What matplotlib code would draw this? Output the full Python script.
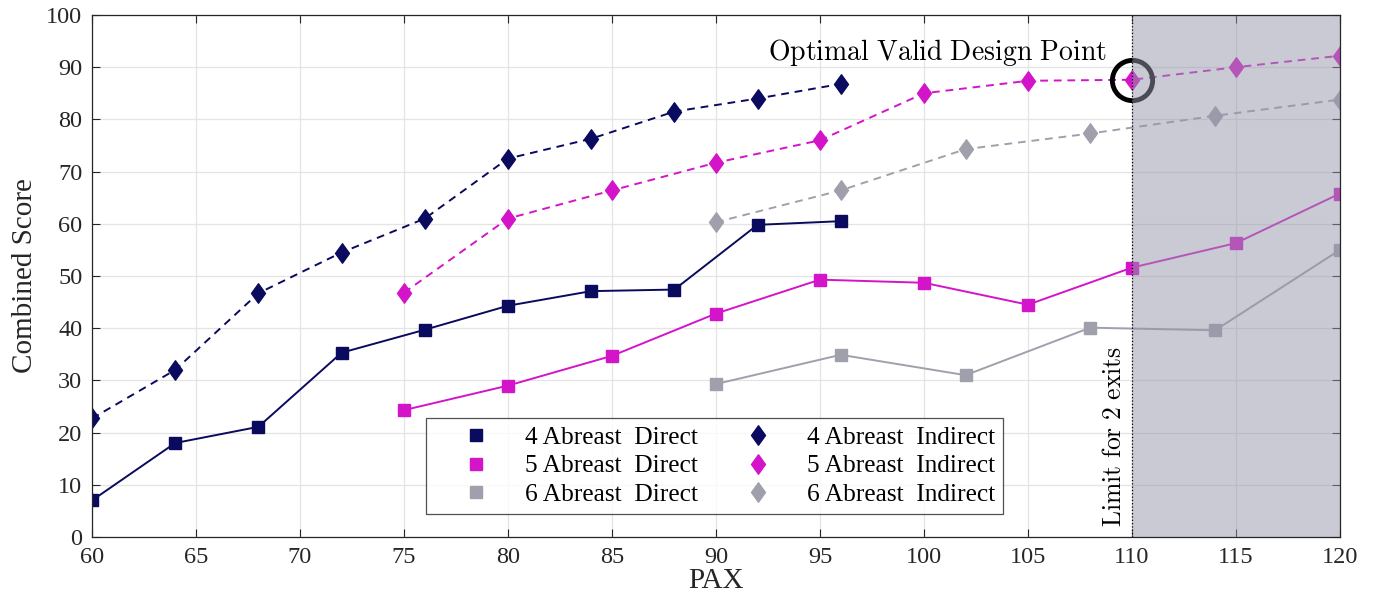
import matplotlib
matplotlib.use('Agg')
import matplotlib.pyplot as plt
from matplotlib.lines import Line2D
from matplotlib.path import Path

plt.rcParams['font.family'] = ['Liberation Serif', 'DejaVu Serif']
plt.rcParams['mathtext.fontset'] = 'cm'

# data
pax_4 = [60, 64, 68, 72, 76, 80, 84, 88, 92, 96]
direct_4 = [7.0, 18.0, 21.1, 35.3, 39.7, 44.3, 47.1, 47.4, 59.8, 60.5]
indirect_4 = [22.7, 32.0, 46.7, 54.5, 61.0, 72.5, 76.3, 81.5, 84.0, 86.8]

pax_5 = [75, 80, 85, 90, 95, 100, 105, 110, 115, 120]
direct_5 = [24.3, 29.0, 34.7, 42.8, 49.3, 48.7, 44.5, 51.6, 56.3, 65.8]
indirect_5 = [46.8, 61.0, 66.4, 71.7, 76.0, 85.0, 87.4, 87.6, 90.0, 92.2]

pax_6 = [90, 96, 102, 108, 114, 120]
direct_6 = [29.3, 34.9, 31.0, 40.1, 39.6, 55.0]
indirect_6 = [60.3, 66.4, 74.3, 77.3, 80.7, 83.8]

labels_direct = ['4 Abreast  Direct', '5 Abreast  Direct', '6 Abreast  Direct']
labels_indirect = ['4 Abreast  Indirect', '5 Abreast  Indirect', '6 Abreast  Indirect']
colors = ['#0a0a5e', '#d414c8', '#a0a0ac']

limit_pax = 110
optimal = (110, 87.6)

# tall diamond like matlab's
diamond = Path([(0, 1), (0.72, 0), (0, -1), (-0.72, 0), (0, 1)],
               [Path.MOVETO, Path.LINETO, Path.LINETO, Path.LINETO, Path.CLOSEPOLY])

fig = plt.figure(figsize=(13.75, 6.03), dpi=100)
ax = fig.add_axes([0.0669, 0.1095, 0.9076, 0.8656])

series = [(pax_4, direct_4, indirect_4), (pax_5, direct_5, indirect_5), (pax_6, direct_6, indirect_6)]
for (px, d, ind), c in zip(series, colors):
    ax.plot(px, d, '-', color=c, lw=1.4, marker='s', ms=8.5, mec=c, mfc=c, zorder=3)
    ax.plot(px, ind, '--', color=c, lw=1.4, marker=diamond, ms=14, mec=c, mfc=c,
            dashes=(4, 3), zorder=3)

# circle round the chosen point
ax.plot([optimal[0]], [optimal[1]], 'o', ms=29, mfc='none', mec='black', mew=3.5, zorder=4)
ax.text(92.5, 91.3, r'$\mathrm{Optimal\ Valid\ Design\ Point}$', fontsize=20, zorder=6)

# region beyond the exit limit
ax.axvspan(limit_pax, 120, color='#9696aa', alpha=0.5, lw=0, zorder=5)
ax.axvline(limit_pax, color='black', ls=':', lw=0.9, zorder=6)
ax.text(limit_pax - 0.3, 2.0, r'$\mathrm{Limit\ for\ 2\ exits}$', rotation=90,
        fontsize=18.5, ha='right', va='bottom', zorder=6)

ax.set_xlim(60, 120)
ax.set_ylim(0, 100)
ax.set_xticks(range(60, 121, 5))
ax.set_yticks(range(0, 101, 10))
ax.grid(True, color='#e4e4e4', lw=0.9, zorder=0)
ax.set_axisbelow(True)
ax.tick_params(direction='in', length=6, width=0.8, labelsize=17.5, colors='#262626',
               top=True, right=True, pad=7)
for s in ax.spines.values():
    s.set_color('#262626')
    s.set_linewidth(0.9)
    s.set_zorder(7)
ax.set_xlabel('PAX', fontsize=21, color='#262626', labelpad=0)
ax.set_ylabel('Combined Score', fontsize=21, color='#262626', labelpad=6)

handles = []
for c, lab in zip(colors, labels_direct):
    handles.append(Line2D([], [], ls='none', marker='s', ms=8.5, color=c, label=lab))
for c, lab in zip(colors, labels_indirect):
    handles.append(Line2D([], [], ls='none', marker=diamond, ms=14, color=c, label=lab))
leg = ax.legend(handles=handles, ncol=2, loc='lower left', bbox_to_anchor=(0.2676, 0.044),
                borderaxespad=0, fontsize=18.3, frameon=True, fancybox=False,
                edgecolor='#262626', handlelength=3.34, handletextpad=0.26,
                columnspacing=0.69, labelspacing=0.24, borderpad=0.3)
leg.get_frame().set_linewidth(0.9)
leg.set_zorder(8)

fig.savefig('out.png', dpi=100)
